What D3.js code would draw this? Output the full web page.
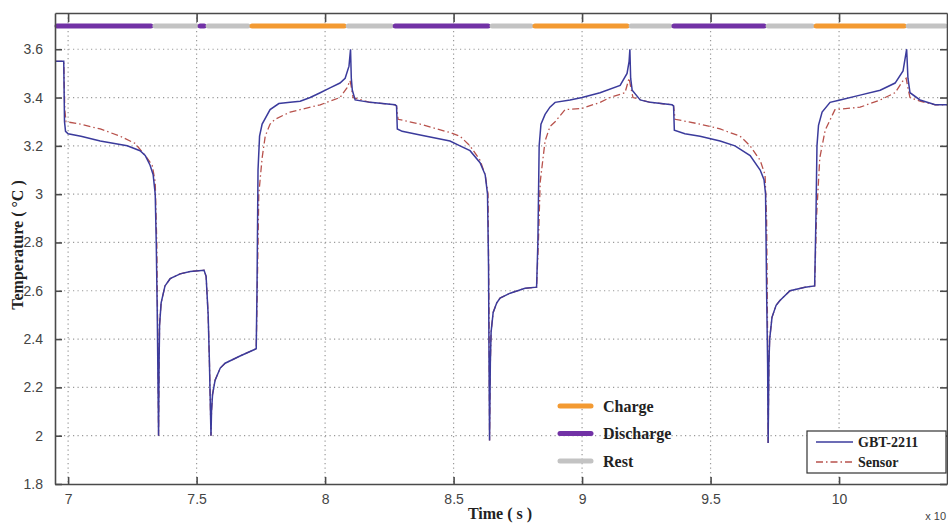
<!DOCTYPE html>
<html>
<head>
<meta charset="utf-8">
<script src="https://cdn.jsdelivr.net/npm/d3@7"></script>
<style>
  body { margin: 0; background: #fff; }
  svg { display: block; }
</style>
</head>
<body>
<svg id="chart" width="948" height="523"></svg>
<script>
// ---- data (time in 10^4 s, temperature) ----
const xTicks = [7, 7.5, 8, 8.5, 9, 9.5, 10];
const xTickLabels = ["7", "7.5", "8", "8.5", "9", "9.5", "10"];
const yTicks = [1.8, 2, 2.2, 2.4, 2.6, 2.8, 3, 3.2, 3.4, 3.6];
const yTickLabels = ["1.8", "2", "2.2", "2.4", "2.6", "2.8", "3", "3.2", "3.4", "3.6"];

// working phases along the top
const phaseStart = [6.949, 7.330, 7.506, 7.537, 7.708, 8.082, 8.265, 8.642, 8.809, 9.183, 9.350, 9.716, 9.903, 10.261];
const phaseEnd   = [7.330, 7.506, 7.537, 7.708, 8.082, 8.265, 8.642, 8.809, 9.183, 9.350, 9.716, 9.903, 10.261, 10.42];
const phaseType  = ["Discharge", "Rest", "Discharge", "Rest", "Charge", "Rest", "Discharge", "Rest", "Charge", "Rest", "Discharge", "Rest", "Charge", "Rest"];

// GBT-2211 reference curve
const gbtTime = [6.949, 6.983, 6.986, 6.990, 7.0, 7.05, 7.125, 7.23, 7.28, 7.30, 7.319, 7.331, 7.339, 7.343, 7.347, 7.352,
  7.354, 7.356, 7.362, 7.377, 7.397, 7.436, 7.475, 7.529, 7.537, 7.545, 7.550, 7.556,
  7.558, 7.562, 7.572, 7.592, 7.611, 7.669, 7.732, 7.735, 7.739, 7.745, 7.755, 7.786, 7.82, 7.864, 7.903, 7.942, 7.981,
  8.019, 8.058, 8.078, 8.093, 8.099, 8.102, 8.106, 8.117, 8.175, 8.272, 8.278, 8.281, 8.30, 8.37, 8.486, 8.525, 8.564,
  8.603, 8.623, 8.632, 8.636, 8.638, 8.640, 8.643, 8.646, 8.654, 8.668, 8.681, 8.72, 8.778, 8.823, 8.828, 8.833, 8.840,
  8.856, 8.875, 8.895, 8.953, 9.0, 9.07, 9.148, 9.175, 9.183, 9.186, 9.189, 9.195, 9.226, 9.265, 9.35, 9.356, 9.359,
  9.40, 9.459, 9.537, 9.595, 9.654, 9.693, 9.708, 9.714, 9.718, 9.722, 9.724, 9.727, 9.730, 9.739, 9.755, 9.77, 9.809,
  9.868, 9.905, 9.91, 9.914, 9.92, 9.934, 9.965, 10.004, 10.082, 10.16, 10.218, 10.249, 10.263, 10.268, 10.276, 10.315,
  10.374, 10.42];
const gbtTemp = [3.55, 3.55, 3.30, 3.26, 3.25, 3.24, 3.22, 3.20, 3.18, 3.16, 3.12, 3.08, 3.0, 2.8, 2.5, 2.0,
  2.3, 2.46, 2.55, 2.62, 2.65, 2.67, 2.68, 2.685, 2.66, 2.5, 2.3, 2.0,
  2.1, 2.17, 2.23, 2.28, 2.30, 2.33, 2.36, 2.6, 3.1, 3.24, 3.29, 3.35, 3.375, 3.38, 3.385, 3.40, 3.42,
  3.44, 3.46, 3.48, 3.53, 3.60, 3.48, 3.43, 3.39, 3.38, 3.37, 3.365, 3.27, 3.26, 3.245, 3.22, 3.20, 3.18,
  3.13, 3.08, 3.0, 2.7, 2.3, 1.98, 2.3, 2.43, 2.51, 2.55, 2.57, 2.59, 2.61, 2.615, 2.8, 3.2, 3.29,
  3.33, 3.36, 3.38, 3.39, 3.40, 3.42, 3.45, 3.5, 3.55, 3.60, 3.48, 3.43, 3.39, 3.38, 3.37, 3.365, 3.265,
  3.25, 3.24, 3.22, 3.20, 3.16, 3.10, 3.06, 3.0, 2.6, 2.3, 1.97, 2.3, 2.4, 2.49, 2.54, 2.56, 2.60,
  2.615, 2.62, 2.9, 3.2, 3.285, 3.34, 3.38, 3.39, 3.41, 3.43, 3.46, 3.51, 3.60, 3.48, 3.42, 3.39,
  3.37, 3.37];

// Sensor curve
const sensorTime = [6.949, 6.983, 6.987, 6.992, 7.047, 7.125, 7.202, 7.261, 7.30, 7.327, 7.339, 7.345, 7.349, 7.352,
  7.354, 7.356, 7.362, 7.377, 7.397, 7.436, 7.475, 7.529, 7.537, 7.545, 7.550, 7.556,
  7.558, 7.562, 7.572, 7.592, 7.611, 7.669, 7.732, 7.736, 7.742, 7.755, 7.767, 7.786, 7.805, 7.864, 7.903, 7.981,
  8.058, 8.085, 8.097, 8.101, 8.109, 8.175, 8.272, 8.278, 8.284, 8.37, 8.486, 8.525, 8.564, 8.603, 8.623, 8.634,
  8.638, 8.640, 8.643, 8.646, 8.654, 8.668, 8.681, 8.72, 8.778, 8.823, 8.83, 8.837, 8.856, 8.875, 8.895, 8.934,
  9.0, 9.07, 9.109, 9.167, 9.183, 9.19, 9.198, 9.265, 9.35, 9.356, 9.362, 9.459, 9.537, 9.615, 9.654, 9.693, 9.712,
  9.718, 9.722, 9.724, 9.727, 9.730, 9.739, 9.755, 9.77, 9.809, 9.868, 9.905, 9.912, 9.925, 9.946, 9.984, 10.082,
  10.16, 10.218, 10.249, 10.261, 10.268, 10.276, 10.315, 10.374, 10.42];
const sensorTemp = [3.55, 3.55, 3.35, 3.30, 3.29, 3.27, 3.24, 3.21, 3.16, 3.12, 3.05, 2.8, 2.4, 2.0,
  2.3, 2.46, 2.55, 2.62, 2.65, 2.67, 2.68, 2.685, 2.66, 2.5, 2.3, 2.0,
  2.1, 2.17, 2.23, 2.28, 2.30, 2.33, 2.36, 2.6, 3.0, 3.15, 3.24, 3.29, 3.31, 3.34, 3.35, 3.37,
  3.40, 3.44, 3.47, 3.45, 3.40, 3.38, 3.37, 3.365, 3.31, 3.29, 3.255, 3.24, 3.20, 3.14, 3.08, 3.0,
  2.5, 1.98, 2.3, 2.43, 2.51, 2.55, 2.57, 2.59, 2.61, 2.615, 2.8, 3.05, 3.22, 3.28, 3.30, 3.35,
  3.355, 3.38, 3.40, 3.42, 3.48, 3.44, 3.40, 3.38, 3.37, 3.365, 3.31, 3.29, 3.27, 3.24, 3.20, 3.14, 3.08,
  2.9, 2.4, 1.97, 2.3, 2.4, 2.49, 2.54, 2.56, 2.60, 2.615, 2.62, 2.9, 3.15, 3.265, 3.35, 3.36,
  3.39, 3.42, 3.47, 3.48, 3.44, 3.40, 3.385, 3.37, 3.37];

const phaseNames = ["Charge", "Discharge", "Rest"];
const phaseColors = { Charge: "#f39a32", Discharge: "#7232a6", Rest: "#c3c3c3" };
const phaseLevel = 3.696;

// ---- layout ----
const svg = d3.select("#chart");
const plotL = 55, plotR = 947, plotT = 13, plotB = 484;

const x = d3.scaleLinear().domain([6.949, 10.42]).range([plotL, plotR]);
const y = d3.scaleLinear().domain([1.8, 3.75]).range([plotB, plotT]);

const tickFont = "'Liberation Sans', Arial, sans-serif";
const serif = "'Liberation Serif', 'Times New Roman', serif";

// grid
const grid = svg.append("g").attr("stroke", "#9a9a9a").attr("stroke-width", 1.2)
  .attr("stroke-dasharray", "1.2,3.3");
grid.selectAll("line.vx").data(xTicks).join("line")
  .attr("x1", d => x(d)).attr("x2", d => x(d)).attr("y1", plotT).attr("y2", plotB);
grid.selectAll("line.hy").data(yTicks.slice(1)).join("line")
  .attr("x1", plotL).attr("x2", plotR).attr("y1", d => y(d)).attr("y2", d => y(d));

// phase bar
svg.append("g").selectAll("line").data(phaseType).join("line")
  .attr("x1", (d, i) => x(phaseStart[i]) + 2)
  .attr("x2", (d, i) => x(phaseEnd[i]) - 2)
  .attr("y1", y(phaseLevel)).attr("y2", y(phaseLevel))
  .attr("stroke", d => phaseColors[d])
  .attr("stroke-width", 5)
  .attr("stroke-linecap", "round");

// curves
const line = d3.line().x(d => x(d[0])).y(d => y(d[1]));
const sensorPts = sensorTime.map((t, i) => [t, sensorTemp[i]]);
const gbtPts = gbtTime.map((t, i) => [t, gbtTemp[i]]);

svg.append("path").datum(sensorPts).attr("d", line)
  .attr("fill", "none").attr("stroke", "#b8524c").attr("stroke-width", 1.3)
  .attr("stroke-dasharray", "7,3,1.5,3");
svg.append("path").datum(gbtPts).attr("d", line)
  .attr("fill", "none").attr("stroke", "#3b3b9c").attr("stroke-width", 1.5);

// axes (MATLAB box, ticks inward)
const axisColor = "#4a4a4a";
const xAxisB = svg.append("g").attr("transform", `translate(0,${plotB})`)
  .call(d3.axisBottom(x).tickValues(xTicks).tickSizeInner(-7).tickSizeOuter(0)
    .tickPadding(12).tickFormat((d, i) => xTickLabels[i]));
const xAxisT = svg.append("g").attr("transform", `translate(0,${plotT})`)
  .call(d3.axisTop(x).tickValues(xTicks).tickSizeInner(-9).tickSizeOuter(0).tickFormat(""));
const yAxisL = svg.append("g").attr("transform", `translate(${plotL},0)`)
  .call(d3.axisLeft(y).tickValues(yTicks).tickSizeInner(-7).tickSizeOuter(0)
    .tickPadding(12).tickFormat((d, i) => yTickLabels[i]));
const yAxisR = svg.append("g").attr("transform", `translate(${plotR},0)`)
  .call(d3.axisRight(y).tickValues(yTicks).tickSizeInner(-7).tickSizeOuter(0).tickFormat(""));

[xAxisB, xAxisT, yAxisL, yAxisR].forEach(g => {
  g.select(".domain").attr("stroke", axisColor).attr("stroke-width", 1.6);
  g.selectAll(".tick line").attr("stroke", axisColor).attr("stroke-width", 1.6);
  g.selectAll("text").attr("font-family", tickFont).attr("font-size", 14).attr("fill", "#444");
});
xAxisB.selectAll(".tick text").attr("dy", "0.6em");

// axis titles
svg.append("text").attr("x", 500).attr("y", 519).attr("text-anchor", "middle")
  .attr("font-family", serif).attr("font-weight", "bold").attr("font-size", 16).attr("fill", "#222")
  .text("Time ( s )");
svg.append("text").attr("transform", "translate(23,245) rotate(-90)").attr("text-anchor", "middle")
  .attr("font-family", serif).attr("font-weight", "bold").attr("font-size", 16).attr("fill", "#222")
  .text("Temperature ( °C )");
svg.append("text").attr("x", 946).attr("y", 520).attr("text-anchor", "end")
  .attr("font-family", tickFont).attr("font-size", 11).attr("fill", "#444").text("x 10");

// phase legend
const pl = svg.append("g");
phaseNames.forEach((p, i) => {
  const yy = 406 + i * 27.5;
  pl.append("line").attr("x1", 560).attr("x2", 591).attr("y1", yy).attr("y2", yy)
    .attr("stroke", phaseColors[p]).attr("stroke-width", 5).attr("stroke-linecap", "round");
  pl.append("text").attr("x", 603).attr("y", yy).attr("dy", "0.35em")
    .attr("font-family", serif).attr("font-weight", "bold").attr("font-size", 16).attr("fill", "#222")
    .text(p);
});

// series legend
const sl = svg.append("g");
sl.append("rect").attr("x", 807).attr("y", 431).attr("width", 139).attr("height", 42)
  .attr("fill", "#fff").attr("stroke", "#333").attr("stroke-width", 1.2);
sl.append("line").attr("x1", 816).attr("x2", 853).attr("y1", 442).attr("y2", 442)
  .attr("stroke", "#3b3b9c").attr("stroke-width", 1.4);
sl.append("line").attr("x1", 816).attr("x2", 853).attr("y1", 462).attr("y2", 462)
  .attr("stroke", "#b8524c").attr("stroke-width", 1.3).attr("stroke-dasharray", "7,3,1.5,3");
sl.append("text").attr("x", 858).attr("y", 442).attr("dy", "0.35em")
  .attr("font-family", serif).attr("font-weight", "bold").attr("font-size", 14).attr("fill", "#222")
  .text("GBT-2211");
sl.append("text").attr("x", 858).attr("y", 462).attr("dy", "0.35em")
  .attr("font-family", serif).attr("font-weight", "bold").attr("font-size", 14).attr("fill", "#222")
  .text("Sensor");
</script>
</body>
</html>
